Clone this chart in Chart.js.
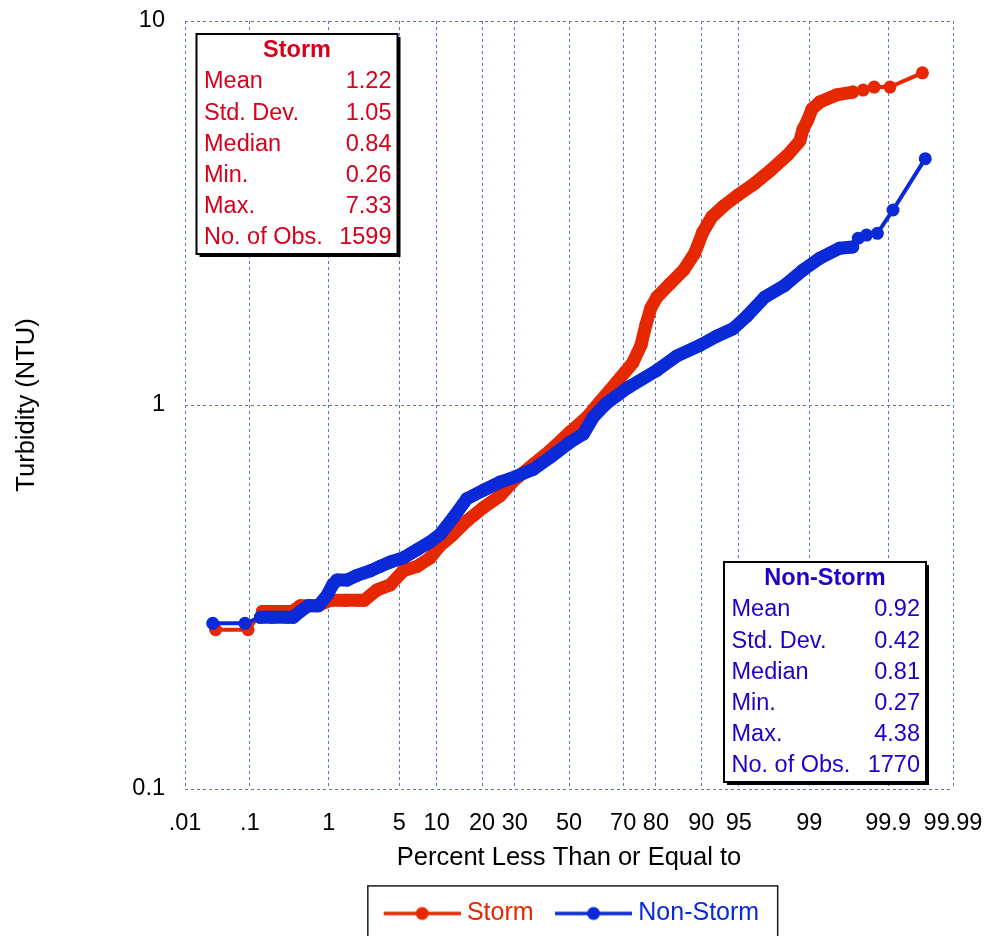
<!DOCTYPE html>
<html>
<head>
<meta charset="utf-8">
<script src="https://cdn.jsdelivr.net/npm/chart.js@4.4.1/dist/chart.umd.min.js"></script>
<style>
html, body { margin: 0; padding: 0; background: #ffffff; }
#c { display: block; }
</style>
</head>
<body>
<canvas id="c" width="988" height="936"></canvas>
<script>
// ---------------- data ----------------
const xTickPct    = [0.01, 0.1, 1, 5, 10, 20, 30, 50, 70, 80, 90, 95, 99, 99.9, 99.99];
const xTickLabels = ['.01', '.1', '1', '5', '10', '20', '30', '50', '70', '80', '90', '95', '99', '99.9', '99.99'];
const yTickVals   = [0.1, 1, 10];
const yTickLabels = ['0.1', '1', '10'];

const seriesNames = ['Storm', 'Non-Storm'];

// Storm: percent less than or equal to, turbidity (NTU)
const stormPct = [0.031, 0.094, 0.149, 0.237, 0.369, 0.463, 0.74, 1.04, 1.51, 2.06,
                  2.37, 3.15, 4.17, 5.42, 7.07, 8.93, 10.57, 13.09, 16.19, 20.27,
                  25.2, 30.1, 36.4, 42.7, 50.4, 56.9, 61.8, 67.9, 73.2, 75.7,
                  77.2, 78.6, 80.3, 83.6, 86.7, 88.85, 90.25, 91.67, 93.3, 94.9,
                  96.32, 97.42, 98.29, 98.73, 98.83, 98.96, 99.07, 99.24, 99.52, 99.70,
                  99.781, 99.844, 99.906, 99.969];
const stormNTU = [0.26, 0.26, 0.29, 0.29, 0.29, 0.30, 0.30, 0.31, 0.31, 0.31,
                  0.31, 0.33, 0.34, 0.37, 0.38, 0.40, 0.43, 0.46, 0.50, 0.54,
                  0.58, 0.64, 0.70, 0.76, 0.85, 0.93, 1.02, 1.15, 1.29, 1.43,
                  1.62, 1.79, 1.91, 2.07, 2.25, 2.49, 2.82, 3.09, 3.30, 3.52,
                  3.76, 4.07, 4.48, 4.87, 5.23, 5.52, 5.90, 6.15, 6.42, 6.53,
                  6.61, 6.73, 6.73, 7.33];

// Non-Storm
const nonStormPct = [0.028, 0.085, 0.140, 0.204, 0.319, 0.379, 0.463, 0.58, 0.76, 0.96,
                     1.10, 1.23, 1.58, 2.0, 2.71, 3.37, 4.17, 5.42, 7.07, 8.93,
                     10.57, 13.15, 16.12, 20.35, 25.2, 30.1, 36.5, 42.7, 50.4, 55.5,
                     59.3, 64.2, 71.6, 80.2, 85.1, 89.75, 92.35, 94.4, 95.72, 97.10,
                     98.17, 98.84, 99.24, 99.56, 99.70, 99.746, 99.802, 99.859, 99.915, 99.972];
const nonStormNTU = [0.27, 0.27, 0.28, 0.28, 0.28, 0.28, 0.29, 0.30, 0.30, 0.32,
                     0.34, 0.35, 0.35, 0.36, 0.37, 0.38, 0.39, 0.40, 0.42, 0.44,
                     0.46, 0.51, 0.57, 0.60, 0.63, 0.65, 0.68, 0.73, 0.80, 0.84,
                     0.93, 1.01, 1.11, 1.23, 1.34, 1.43, 1.51, 1.58, 1.70, 1.91,
                     2.05, 2.25, 2.41, 2.56, 2.58, 2.72, 2.77, 2.80, 3.22, 4.38];

// Summary statistics boxes
const statLabels    = ['Mean', 'Std. Dev.', 'Median', 'Min.', 'Max.', 'No. of Obs.'];
const stormStats    = ['1.22', '1.05', '0.84', '0.26', '7.33', '1599'];
const nonStormStats = ['0.92', '0.42', '0.81', '0.27', '4.38', '1770'];

const xTitle = 'Percent Less Than or Equal to';
const yTitle = 'Turbidity (NTU)';

// ---------------- styling ----------------
const FONT = "'Liberation Sans', Arial, Helvetica, sans-serif";
const STORM_COLOR = '#e62800';
const NONSTORM_COLOR = '#0a2ad8';
const STORM_TEXT = '#d6001c';
const NONSTORM_TEXT = '#1e00c8';
const GRID_COLOR = '#4f6fe3';
const BAND_W = 13, THIN_W = 4;

// inverse standard normal CDF (Acklam) – used for the normal-probability axis
function probit(p) {
  const a = [-3.969683028665376e+01, 2.209460984245205e+02, -2.759285104469687e+02, 1.383577518672690e+02, -3.066479806614716e+01, 2.506628277459239e+00];
  const b = [-5.447609879822406e+01, 1.615858368580409e+02, -1.556989798598866e+02, 6.680131188771972e+01, -1.328068155288572e+01];
  const c = [-7.784894002430293e-03, -3.223964580411365e-01, -2.400758277161838e+00, -2.549671348850110e+00, 4.374664141464968e+00, 2.938163982698783e+00];
  const d = [7.784695709041462e-03, 3.224671290700398e-01, 2.445134137142996e+00, 3.754408661907416e+00];
  const pl = 0.02425, ph = 1 - pl;
  let q, r;
  if (p < pl) {
    q = Math.sqrt(-2 * Math.log(p));
    return (((((c[0]*q+c[1])*q+c[2])*q+c[3])*q+c[4])*q+c[5]) / ((((d[0]*q+d[1])*q+d[2])*q+d[3])*q+1);
  }
  if (p <= ph) {
    q = p - 0.5; r = q * q;
    return (((((a[0]*r+a[1])*r+a[2])*r+a[3])*r+a[4])*r+a[5])*q / (((((b[0]*r+b[1])*r+b[2])*r+b[3])*r+b[4])*r+1);
  }
  q = Math.sqrt(-2 * Math.log(1 - p));
  return -(((((c[0]*q+c[1])*q+c[2])*q+c[3])*q+c[4])*q+c[5]) / ((((d[0]*q+d[1])*q+d[2])*q+d[3])*q+1);
}

function toPoints(pcts, vals) {
  return pcts.map((p, i) => ({ x: probit(p / 100), y: vals[i] }));
}

// dense central part drawn as a thick band, sparse tails as thin connecting lines
function segWidth(n, tailLow, tailHigh) {
  return (ctx) => (ctx.p0DataIndex < tailLow || ctx.p0DataIndex >= n - 1 - tailHigh) ? THIN_W : BAND_W;
}

function legendIcon(color) {
  const cv = document.createElement('canvas');
  cv.width = 88; cv.height = 16;
  const g = cv.getContext('2d');
  g.strokeStyle = color; g.lineWidth = 3.5;
  g.beginPath(); g.moveTo(11, 8); g.lineTo(88, 8); g.stroke();
  g.fillStyle = color;
  g.beginPath(); g.arc(49.5, 8, 6.5, 0, Math.PI * 2); g.fill();
  return cv;
}
const legendIcons = [legendIcon(STORM_COLOR), legendIcon(NONSTORM_COLOR)];
const legendTextColors = [STORM_COLOR, NONSTORM_COLOR];

function drawStatBox(ctx, x, y, w, h, title, values, color) {
  ctx.save();
  ctx.fillStyle = '#000';
  ctx.fillRect(x + 3, y + 3, w, h);
  ctx.fillStyle = '#fff';
  ctx.fillRect(x, y, w, h);
  ctx.lineWidth = 2;
  ctx.strokeStyle = '#000';
  ctx.strokeRect(x, y, w, h);
  ctx.fillStyle = color;
  ctx.textBaseline = 'middle';
  ctx.font = 'bold 23.5px ' + FONT;
  ctx.textAlign = 'center';
  ctx.fillText(title, x + w / 2, y + 17);
  ctx.font = '23.5px ' + FONT;
  for (let i = 0; i < statLabels.length; i++) {
    const ty = y + 48 + i * 31.1;
    ctx.textAlign = 'left';
    ctx.fillText(statLabels[i], x + 7.5, ty);
    ctx.textAlign = 'right';
    ctx.fillText(values[i], x + w - 6, ty);
  }
  ctx.restore();
}

const statBoxesPlugin = {
  id: 'statBoxes',
  afterDatasetsDraw(chart) {
    const { ctx, chartArea: a } = chart;
    drawStatBox(ctx, a.left + 11.5, a.top + 13, 201, 220, seriesNames[0], stormStats, STORM_TEXT);
    drawStatBox(ctx, a.right - 229, a.bottom - 227, 202, 220, seriesNames[1], nonStormStats, NONSTORM_TEXT);
  }
};

const legendFramePlugin = {
  id: 'legendFrame',
  afterDraw(chart) {
    const lg = chart.legend;
    if (!lg || !lg.legendHitBoxes || !lg.legendHitBoxes.length) return;
    const hb = lg.legendHitBoxes;
    const last = hb[hb.length - 1];
    const l = hb[0].left - 11;
    const r = last.left + last.width + 18.5;
    const t = lg.top + 1.5;
    const ctx = chart.ctx;
    ctx.save();
    ctx.strokeStyle = '#1a1a1a';
    ctx.lineWidth = 1.5;
    ctx.strokeRect(l, t, r - l, chart.height - t + 10);
    ctx.restore();
  }
};

Chart.defaults.font.family = FONT;
Chart.defaults.color = '#000';

new Chart(document.getElementById('c'), {
  type: 'scatter',
  data: {
    datasets: [
      {
        label: seriesNames[0],
        data: toPoints(stormPct, stormNTU),
        showLine: true,
        borderColor: STORM_COLOR,
        backgroundColor: STORM_COLOR,
        pointBackgroundColor: STORM_COLOR,
        pointBorderWidth: 0,
        pointRadius: 6.5,
        borderWidth: BAND_W,
        borderCapStyle: 'round',
        borderJoinStyle: 'round',
        segment: { borderWidth: segWidth(stormPct.length, 2, 4) },
        order: 2
      },
      {
        label: seriesNames[1],
        data: toPoints(nonStormPct, nonStormNTU),
        showLine: true,
        borderColor: NONSTORM_COLOR,
        backgroundColor: NONSTORM_COLOR,
        pointBackgroundColor: NONSTORM_COLOR,
        pointBorderWidth: 0,
        pointRadius: 6.5,
        borderWidth: BAND_W,
        borderCapStyle: 'round',
        borderJoinStyle: 'round',
        segment: { borderWidth: segWidth(nonStormPct.length, 2, 5) },
        order: 1
      }
    ]
  },
  options: {
    responsive: false,
    animation: false,
    devicePixelRatio: 1,
    events: [],
    layout: { padding: { top: 21, right: 35, bottom: 0, left: 0 } },
    plugins: {
      tooltip: { enabled: false },
      legend: {
        position: 'bottom',
        fullSize: false,
        labels: {
          usePointStyle: true,
          pointStyleWidth: 75.6,
          padding: 16.6,
          font: { size: 25, family: FONT },
          sort: (a, b) => a.datasetIndex - b.datasetIndex,
          generateLabels: (chart) => {
            const items = Chart.defaults.plugins.legend.labels.generateLabels(chart);
            items.forEach((it) => {
              it.pointStyle = legendIcons[it.datasetIndex];
              it.fontColor = legendTextColors[it.datasetIndex];
            });
            return items;
          }
        }
      }
    },
    scales: {
      x: {
        type: 'linear',
        position: 'bottom',
        min: probit(xTickPct[0] / 100),
        max: probit(xTickPct[xTickPct.length - 1] / 100),
        afterBuildTicks: (s) => { s.ticks = xTickPct.map(p => ({ value: probit(p / 100) })); },
        afterFit: (s) => { s.height = 95.4; s.paddingLeft = 0; s.paddingRight = 0; },
        ticks: {
          autoSkip: false, maxRotation: 0, minRotation: 0, padding: 20,
          font: { size: 23.5 }, color: '#000',
          callback: (v, i) => xTickLabels[i]
        },
        grid: { color: GRID_COLOR, lineWidth: 1, drawTicks: false },
        border: { display: false, dash: [3, 3] },
        title: { display: true, text: xTitle, color: '#000', font: { size: 25.5 }, padding: { top: 0, bottom: 11 } }
      },
      y: {
        type: 'logarithmic',
        min: yTickVals[0],
        max: yTickVals[yTickVals.length - 1],
        afterBuildTicks: (s) => { s.ticks = yTickVals.map(v => ({ value: v })); },
        afterFit: (s) => { s.width = 185; s.paddingTop = 0; s.paddingBottom = 0; },
        ticks: {
          autoSkip: false, padding: 20,
          font: { size: 23.5 }, color: '#000',
          callback: (v, i) => yTickLabels[i]
        },
        grid: { color: GRID_COLOR, lineWidth: 1, drawTicks: false },
        border: { display: false, dash: [3, 3] },
        title: { display: true, text: yTitle, color: '#000', font: { size: 25.5 }, padding: { top: 12, bottom: 0 } }
      }
    }
  },
  plugins: [statBoxesPlugin, legendFramePlugin]
});
</script>
</body>
</html>
